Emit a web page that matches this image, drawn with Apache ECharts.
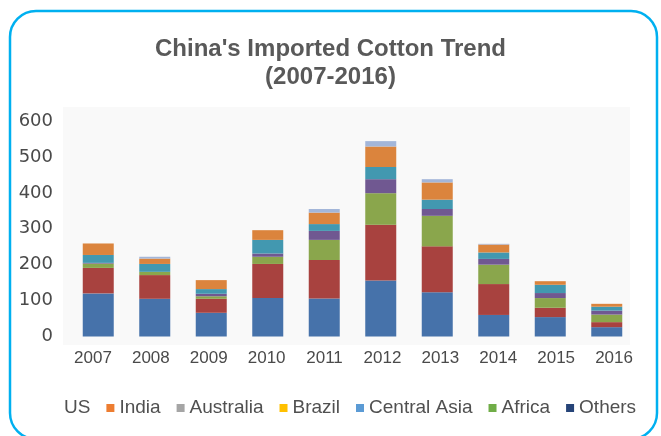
<!DOCTYPE html>
<html>
<head>
<meta charset="utf-8">
<script src="https://cdn.jsdelivr.net/npm/echarts@6/dist/echarts.min.js"></script>
<style>
html,body{margin:0;padding:0;background:#fff;}
#chart{width:661px;height:436px;}
</style>
</head>
<body>
<div id="chart"></div>
<script>
var years = ['2007','2008','2009','2010','2011','2012','2013','2014','2015','2016'];
var yTicks = [0,100,200,300,400,500,600];
var usVals      = [120,105,66,107,106,156,123,60,54,26];
var indiaVals   = [71,66,39,95,107,155,128,86,26,14];
var australiaVals = [12,9,7,20,56,88,85,54,27,21];
var brazilVals  = [2,0,7,9,25,39,19,16,14,11];
var centralAsiaVals = [22,22,13,38,19,34,26,18,23,11];
var africaVals  = [32,15,25,27,32,57,48,22,10,8];
var othersVals  = [0,5,0,0,10,15,9,2,0,0];

var seriesNames = ['US','India','Australia','Brazil','Central Asia','Africa','Others'];
var seriesData = [usVals,indiaVals,australiaVals,brazilVals,centralAsiaVals,africaVals,othersVals];
var barColors = ['#4672AA','#A8423F','#8AA64C','#705891','#4298B0','#DB843D','#A3B6D9'];
var legendColors = ['rgba(0,0,0,0)','#ED7D31','#A5A5A5','#FFC000','#5B9BD5','#70AD47','#264478'];

var chart = echarts.init(document.getElementById('chart'), null, {renderer:'canvas'});
var series = seriesNames.map(function(n,i){
  return {
    name:n, type:'bar', stack:'total', xAxisIndex:0, yAxisIndex:0,
    data:seriesData[i], barWidth:31,
    itemStyle:{color:barColors[i]},
    emphasis:{disabled:true}
  };
});
chart.setOption({
  animation:false,
  backgroundColor:'#ffffff',
  title:{
    text:"China's Imported Cotton Trend\n(2007-2016)",
    left:'center', top:30,
    textStyle:{fontFamily:'Liberation Sans', fontWeight:'bold', fontSize:24, lineHeight:28, color:'#595959'}
  },
  graphic:[
    {type:'rect', z:-10, silent:true, shape:{x:63,y:107,width:567,height:238}, style:{fill:'#F9F9F9'}},
    {type:'rect', z:10, silent:true, shape:{x:10,y:11,width:647,height:428,r:26}, style:{fill:'none',stroke:'#00B0F0',lineWidth:2.5}}
  ],
  legend:{
    left:51, top:398, padding:0, itemGap:16, itemWidth:8, itemHeight:8,
    selectedMode:false,
    textStyle:{fontFamily:'Liberation Sans', fontSize:19, lineHeight:20, color:'#505050'},
    data:seriesNames.map(function(n,i){ return {name:n, icon:'rect', itemStyle:{color:legendColors[i]}}; })
  },
  grid:[
    {left:70, right:26, top:121, bottom:99.5, containLabel:false},
    {left:64, right:18, top:121, bottom:99.5, containLabel:false}
  ],
  xAxis:[
    {type:'category', gridIndex:0, data:years, axisLine:{show:false}, axisTick:{show:false}, axisLabel:{show:false}},
    {type:'category', gridIndex:1, data:years, axisLine:{show:false}, axisTick:{show:false},
     axisLabel:{fontFamily:'Liberation Sans', fontSize:17, color:'#4a4a4a', margin:13}}
  ],
  yAxis:[
    {type:'value', gridIndex:0, min:0, max:600, interval:100, splitLine:{show:false},
     axisLabel:{fontFamily:'DejaVu Sans', fontSize:18, color:'#4a4a4a', margin:17}},
    {type:'value', gridIndex:1, min:0, max:600, interval:100, show:false, splitLine:{show:false}}
  ],
  series:series
});
</script>
</body>
</html>
